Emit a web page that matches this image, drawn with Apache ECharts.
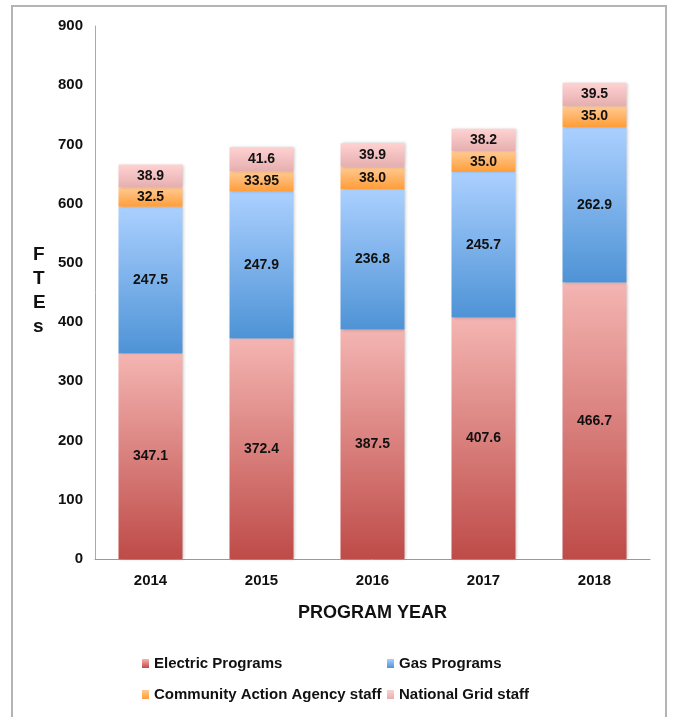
<!DOCTYPE html>
<html>
<head>
<meta charset="utf-8">
<script src="https://cdn.jsdelivr.net/npm/echarts@6/dist/echarts.min.js"></script>
<style>
  html, body { margin: 0; padding: 0; background: #fff; }
  #chart { width: 674px; height: 717px; }
</style>
</head>
<body>
<div id="chart"></div>
<script>
const years = ['2014', '2015', '2016', '2017', '2018']
const electric = [347.1, 372.4, 387.5, 407.6, 466.7]
const gas = [247.5, 247.9, 236.8, 245.7, 262.9]
const community = [32.5, 33.95, 38.0, 35.0, 35.0]
const nationalGrid = [38.9, 41.6, 39.9, 38.2, 39.5]
const yTicks = [0, 100, 200, 300, 400, 500, 600, 700, 800, 900]

const FONT = '"Liberation Sans", Arial, sans-serif'

const chart = echarts.init(document.getElementById('chart'))

const grad = (top, bottom) => new echarts.graphic.LinearGradient(0, 0, 0, 1, [
  { offset: 0, color: top },
  { offset: 1, color: bottom }
])

// 38 -> "38.0", 33.95 stays as is
const fmt = (v) => {
  const s = String(v)
  return s.includes('.') ? s : s + '.0'
}

const makeSeries = (name, data, top, bottom) => ({
  name,
  type: 'bar',
  stack: 'total',
  data,
  barWidth: 64,
  itemStyle: {
    color: grad(top, bottom),
    shadowColor: 'rgba(0,0,0,0.22)',
    shadowBlur: 3,
    shadowOffsetX: 1
  },
  label: {
    show: true,
    position: 'inside',
    color: '#111',
    fontFamily: FONT,
    fontWeight: 'bold',
    fontSize: 14,
    formatter: (p) => fmt(p.value)
  }
})

const legendAt = (name, left, top) => ({
  data: [name],
  left,
  top,
  icon: 'rect',
  itemWidth: 7,
  itemHeight: 9,
  textStyle: { fontFamily: FONT, fontWeight: 'bold', fontSize: 15, color: '#111' }
})

chart.setOption({
  animation: false,
  grid: { left: 95, right: 24, top: 26, bottom: 158 },
  xAxis: {
    type: 'category',
    data: years,
    axisLine: { lineStyle: { color: '#999', width: 1 } },
    axisTick: { show: false },
    axisLabel: { color: '#111', fontFamily: FONT, fontWeight: 'bold', fontSize: 15, margin: 14 },
    name: 'PROGRAM YEAR',
    nameLocation: 'middle',
    nameGap: 45,
    nameTextStyle: { color: '#111', fontFamily: FONT, fontWeight: 'bold', fontSize: 18 }
  },
  yAxis: {
    type: 'value',
    min: yTicks[0],
    max: yTicks[yTicks.length - 1],
    interval: 100,
    splitLine: { show: false },
    axisLine: { show: true, lineStyle: { color: '#aaa', width: 1 } },
    axisTick: { show: false },
    axisLabel: { color: '#111', fontFamily: FONT, fontWeight: 'bold', fontSize: 15, margin: 12 }
  },
  legend: [
    legendAt('Electric Programs', 137, 651),
    legendAt('Gas Programs', 382, 651),
    legendAt('Community Action Agency staff', 137, 682),
    legendAt('National Grid staff', 382, 682)
  ],
  graphic: [
    {
      type: 'rect',
      shape: { x: 12, y: 6, width: 654, height: 740 },
      style: { fill: 'none', stroke: '#b4b4b4', lineWidth: 2 },
      silent: true
    },
    {
      type: 'text',
      left: 33,
      top: 243,
      style: {
        text: 'F\nT\nE\ns',
        font: 'bold 19px ' + FONT,
        fill: '#111',
        lineHeight: 24,
        align: 'center'
      }
    }
  ],
  series: [
    makeSeries('Electric Programs', electric, '#f4b5b2', '#be4b48'),
    makeSeries('Gas Programs', gas, '#abd0ff', '#4e93d6'),
    makeSeries('Community Action Agency staff', community, '#ffca94', '#ff9d38'),
    makeSeries('National Grid staff', nationalGrid, '#ffd2d2', '#e6aeae')
  ]
})
</script>
</body>
</html>
